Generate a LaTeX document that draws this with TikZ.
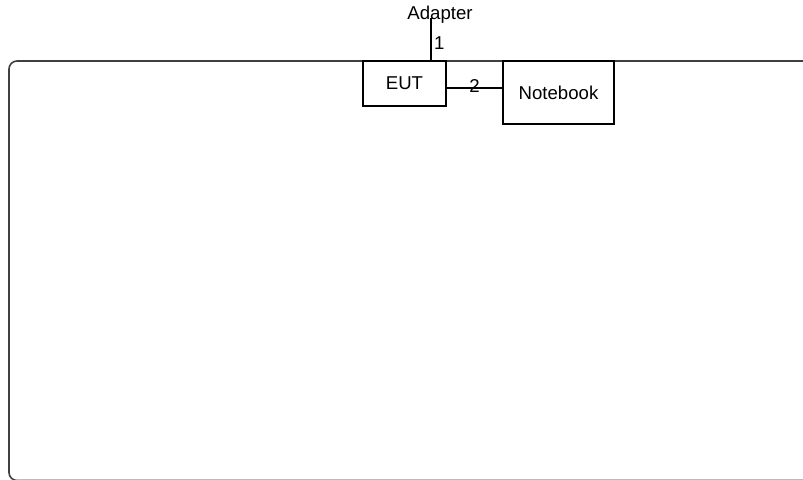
\documentclass[tikz,border=0pt]{standalone}
\usepackage{fontspec}
\setmainfont{Liberation Sans}
\usetikzlibrary{positioning}
\tikzset{
    box/.style={
        draw,
        line width=1pt,
        inner sep=0pt,
        font=\fontsize{9.3}{11}\selectfont
    },
    lbl/.style={
        font=\fontsize{9.3}{11}\selectfont,
        inner sep=1pt
    }
}

\begin{document}
\begin{tikzpicture}[
    x=0.5pt,
    y=-0.5pt
]

    \useasboundingbox[fill=white] (0,0) rectangle (803,479);
    \clip (0,0) rectangle (803,479);

    % Rahmen
    \draw[black!75, line width=0.8pt, rounded corners=4pt]
        (9,61) rectangle (830,480.5);

    % Geraete
    \node[box, minimum width=41.5pt, minimum height=22.5pt]
        (eut) at (404.5,83.5) {EUT};
    \node[box, minimum width=55.5pt, minimum height=31.5pt]
        (notebook) at (558.5,92.5) {Notebook};
    \node[lbl] (adapter) at (440,15) {Adapter};

    % Leitungen
    \coordinate (plug) at (431,18);
    \draw[line width=1pt] (plug) -- (plug |- eut.north)
        node[lbl, pos=0.6, right] {1};
    \draw[line width=1pt] ([yshift=-2.25pt]eut.east)
        -- ([yshift=-2.25pt]eut.east -| notebook.west)
        node[lbl, midway, yshift=1pt] {2};

\end{tikzpicture}
\end{document}
